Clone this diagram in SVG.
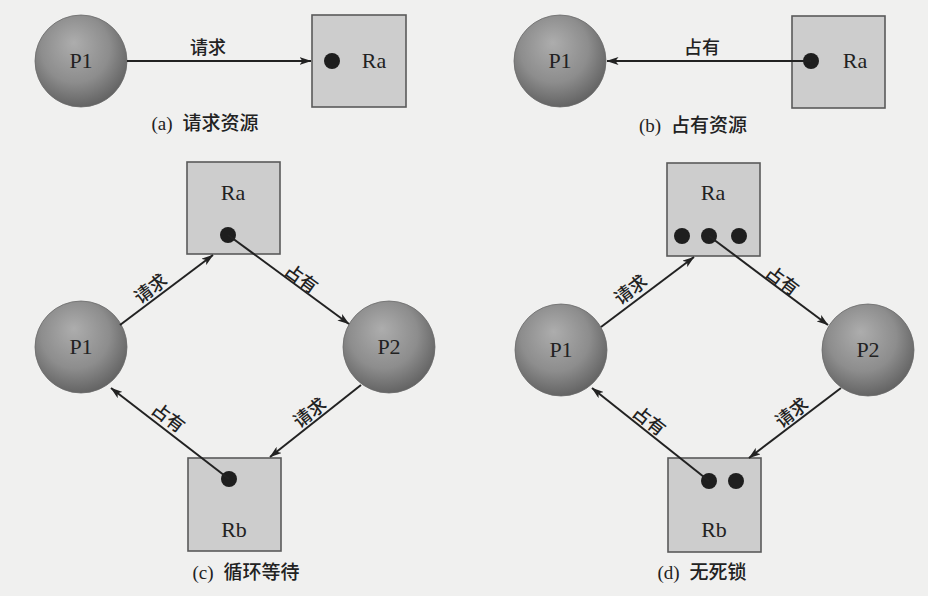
<svg xmlns="http://www.w3.org/2000/svg" width="928" height="596" viewBox="0 0 928 596">
<defs>
<radialGradient id="sph" cx="0.45" cy="0.4" r="0.62" fx="0.42" fy="0.3">
<stop offset="0" stop-color="#adadad"/>
<stop offset="0.6" stop-color="#8d8d8d"/>
<stop offset="1" stop-color="#616161"/>
</radialGradient>
<marker id="ah" viewBox="0 0 12 8" markerWidth="12" markerHeight="8" refX="11.5" refY="4" orient="auto" markerUnits="userSpaceOnUse">
<path d="M0,0 L12,4 L0,8 L3,4 z" fill="#222"/>
</marker>
</defs>
<style>
.proc{fill:url(#sph);stroke:#6a6a6a;stroke-width:0.8}
.res{fill:#cdcdcd;stroke:#5a5a5a;stroke-width:1.6}
.dot{fill:#1e1e1e}
.nm{font-family:"Liberation Serif","Noto Sans CJK SC",serif;font-size:22px;fill:#222;text-anchor:middle}
.lb{font-family:"Liberation Serif","Noto Sans CJK SC",serif;font-size:18px;font-weight:500;fill:#222;text-anchor:middle}
.cap{font-family:"Liberation Serif","Noto Sans CJK SC",serif;font-size:19px;font-weight:500;fill:#222;text-anchor:middle}
.cn{stroke:#222;stroke-width:2;fill:none;marker-end:url(#ah)}
</style>
<rect x="0" y="0" width="928" height="596" fill="#f0f0ef"/>

<!-- (a) -->
<g id="a-P1"><circle class="proc" cx="81" cy="61" r="46"/><text class="nm" x="81" y="68">P1</text></g>
<g id="a-Ra"><rect class="res" x="312" y="15" width="94" height="92"/><circle class="dot" cx="332" cy="61" r="8"/><text class="nm" x="374" y="68">Ra</text></g>
<!-- (b) -->
<g id="b-P1"><circle class="proc" cx="560" cy="61" r="46"/><text class="nm" x="560" y="68">P1</text></g>
<g id="b-Ra"><rect class="res" x="792" y="16" width="93" height="92"/><circle class="dot" cx="811" cy="61" r="8"/><text class="nm" x="855" y="68">Ra</text></g>
<!-- (c) -->
<g id="c-P1"><circle class="proc" cx="81" cy="347" r="46"/><text class="nm" x="81" y="354">P1</text></g>
<g id="c-P2"><circle class="proc" cx="389" cy="347" r="46"/><text class="nm" x="389" y="354">P2</text></g>
<g id="c-Ra"><rect class="res" x="187" y="162" width="93" height="92"/><circle class="dot" cx="228" cy="235" r="8"/><text class="nm" x="233" y="200">Ra</text></g>
<g id="c-Rb"><rect class="res" x="188" y="458" width="93" height="93"/><circle class="dot" cx="229" cy="479" r="8"/><text class="nm" x="234" y="537">Rb</text></g>
<!-- (d) -->
<g id="d-P1"><circle class="proc" cx="561" cy="350" r="46"/><text class="nm" x="561" y="357">P1</text></g>
<g id="d-P2"><circle class="proc" cx="868" cy="350" r="46"/><text class="nm" x="868" y="357">P2</text></g>
<g id="d-Ra"><rect class="res" x="667" y="163" width="93" height="93"/><circle class="dot" cx="682" cy="236" r="8"/><circle class="dot" cx="709" cy="236" r="8"/><circle class="dot" cx="739" cy="236" r="8"/><text class="nm" x="713" y="200">Ra</text></g>
<g id="d-Rb"><rect class="res" x="668" y="458" width="93" height="94"/><circle class="dot" cx="709" cy="481" r="8"/><circle class="dot" cx="736" cy="481" r="8"/><text class="nm" x="714" y="537">Rb</text></g>

<g id="connectors">
<line class="cn" x1="127" y1="61" x2="311" y2="61"/>
<line class="cn" x1="811" y1="61" x2="607" y2="61"/>
<line class="cn" x1="120" y1="325" x2="213" y2="255"/>
<line class="cn" x1="228" y1="235" x2="349" y2="324"/>
<line class="cn" x1="361" y1="385" x2="270" y2="457"/>
<line class="cn" x1="229" y1="479" x2="111" y2="388"/>
<line class="cn" x1="601" y1="327" x2="694" y2="257"/>
<line class="cn" x1="709" y1="236" x2="828" y2="325"/>
<line class="cn" x1="841" y1="388" x2="749" y2="458"/>
<line class="cn" x1="709" y1="481" x2="592" y2="388"/>
</g>

<g id="labels">
<text class="lb" x="208" y="54">请求</text>
<text class="lb" x="702" y="54">占有</text>
<text class="lb" transform="translate(151,289) rotate(-37)" x="0" y="6">请求</text>
<text class="lb" transform="translate(301,279) rotate(36)" x="0" y="6">占有</text>
<text class="lb" transform="translate(168,418) rotate(37)" x="0" y="6">占有</text>
<text class="lb" transform="translate(310,413) rotate(-38)" x="0" y="6">请求</text>
<text class="lb" transform="translate(631,290) rotate(-37)" x="0" y="6">请求</text>
<text class="lb" transform="translate(782,281) rotate(37)" x="0" y="6">占有</text>
<text class="lb" transform="translate(649,421) rotate(38)" x="0" y="6">占有</text>
<text class="lb" transform="translate(792,413) rotate(-38)" x="0" y="6">请求</text>
</g>

<g id="captions">
<text class="cap" x="205" y="130">(a)<tspan dx="10">请求资源</tspan></text>
<text class="cap" x="693" y="132">(b)<tspan dx="10">占有资源</tspan></text>
<text class="cap" x="246" y="579">(c)<tspan dx="10">循环等待</tspan></text>
<text class="cap" x="702" y="579">(d)<tspan dx="10">无死锁</tspan></text>
</g>
</svg>
